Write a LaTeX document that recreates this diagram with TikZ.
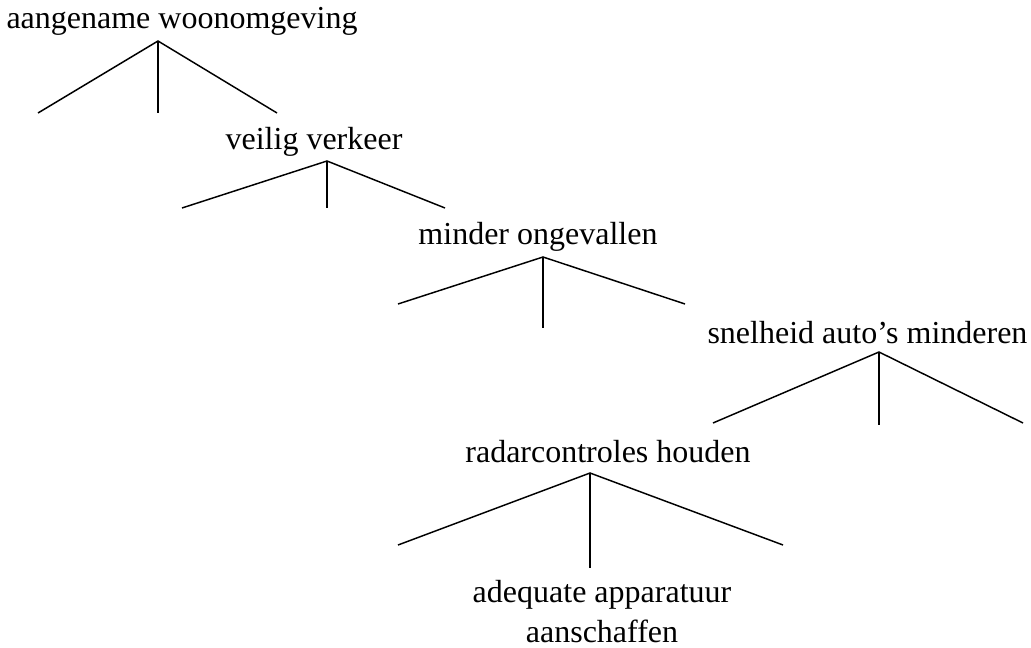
\documentclass[tikz,border=0pt]{standalone}
\usepackage{fontspec}
\setmainfont{Liberation Serif}
\begin{document}
\begin{tikzpicture}[x=0.75pt,y=-0.75pt,
  goal/.style={anchor=base,inner sep=0pt,font=\fontsize{24}{29.3}\selectfont},
  leg/.style={line width=1.1pt,black}]
\useasboundingbox (0,0) rectangle (1031,648);
% goal labels
\node[goal] (g1) at (182,29) {aangename woonomgeving};
\node[goal] (g2) at (314,150) {veilig verkeer};
\node[goal] (g3) at (538,245) {minder ongevallen};
\node[goal] (g4) at (867.5,344) {snelheid auto’s minderen};
\node[goal] (g5) at (608,462) {radarcontroles houden};
\node[goal,align=center] (g6) at (602,642) {adequate apparatuur\\aanschaffen};
% branch points and leg ends
\coordinate (a1) at (158,41);
\coordinate (l1) at (38,113);  \coordinate (m1) at (158,113); \coordinate (r1) at (277,113);
\coordinate (a2) at (327,161);
\coordinate (l2) at (182,208); \coordinate (m2) at (327,208); \coordinate (r2) at (445,208);
\coordinate (a3) at (543,257);
\coordinate (l3) at (398,304); \coordinate (m3) at (543,328); \coordinate (r3) at (685,304);
\coordinate (a4) at (879,352);
\coordinate (l4) at (713,423); \coordinate (m4) at (879,425); \coordinate (r4) at (1023,423);
\coordinate (a5) at (590,473);
\coordinate (l5) at (398,545); \coordinate (m5) at (590,568); \coordinate (r5) at (783,545);
% legs
\foreach \i in {1,...,5}{
  \draw[leg] (l\i) -- (a\i) -- (r\i);
  \draw[leg] (a\i) -- (m\i);
}
\end{tikzpicture}
\end{document}
